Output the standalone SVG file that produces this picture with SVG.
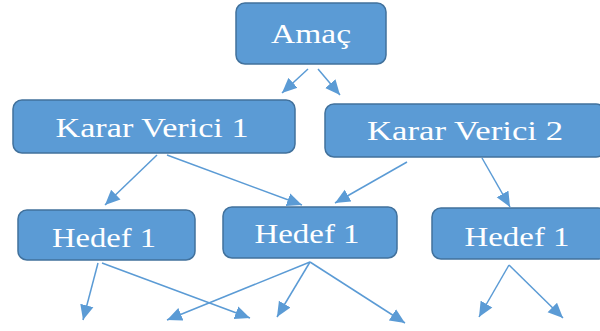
<svg xmlns="http://www.w3.org/2000/svg" width="600" height="331" viewBox="0 0 600 331">
<defs>
<marker id="ah" viewBox="0 0 10 10" refX="10" refY="5" markerUnits="userSpaceOnUse" markerWidth="15" markerHeight="15" orient="auto">
<path d="M0,0.5 L10,5 L0,9.5 z" fill="#5B9BD5"/>
</marker>
<style>
.box{fill:#5B9BD5;stroke:#41719C;stroke-width:1.5}
.lbl{font-family:"Liberation Serif","Times New Roman",serif;font-size:28px;fill:#FFFFFF;text-anchor:middle}
.con line{stroke:#5B9BD5;stroke-width:1.5;marker-end:url(#ah)}
</style>
</defs>
<rect width="600" height="331" fill="#FFFFFF"/>
<g id="connectors" class="con">
<line x1="308" y1="69" x2="282" y2="93"/>
<line x1="318" y1="69" x2="340" y2="95"/>
<line x1="157" y1="155" x2="105" y2="205"/>
<line x1="167" y1="155" x2="302" y2="205"/>
<line x1="407" y1="162" x2="335" y2="203"/>
<line x1="482" y1="158" x2="510" y2="207"/>
<line x1="98" y1="263" x2="83" y2="320"/>
<line x1="102" y1="263" x2="250" y2="318"/>
<line x1="310" y1="262" x2="167" y2="320"/>
<line x1="310" y1="262" x2="277" y2="317"/>
<line x1="310" y1="262" x2="405" y2="323"/>
<line x1="509" y1="265" x2="479" y2="317"/>
<line x1="509" y1="265" x2="563" y2="318"/>
</g>
<g id="amac">
<rect class="box" x="236" y="3" width="150" height="61" rx="9"/>
<text class="lbl" x="311" y="43" textLength="80" lengthAdjust="spacingAndGlyphs">Amaç</text>
</g>
<g id="karar-verici-1">
<rect class="box" x="13" y="100" width="282" height="53" rx="9"/>
<text class="lbl" x="152" y="137" textLength="193" lengthAdjust="spacingAndGlyphs">Karar Verici 1</text>
</g>
<g id="karar-verici-2">
<rect class="box" x="325" y="104" width="280" height="53" rx="9"/>
<text class="lbl" x="465" y="140" textLength="196" lengthAdjust="spacingAndGlyphs">Karar Verici 2</text>
</g>
<g id="hedef-1a">
<rect class="box" x="18" y="210" width="177" height="50" rx="9"/>
<text class="lbl" x="104" y="247" textLength="104" lengthAdjust="spacingAndGlyphs">Hedef 1</text>
</g>
<g id="hedef-1b">
<rect class="box" x="223" y="207" width="174" height="51" rx="9"/>
<text class="lbl" x="307" y="243" textLength="105" lengthAdjust="spacingAndGlyphs">Hedef 1</text>
</g>
<g id="hedef-1c">
<rect class="box" x="432" y="208" width="175" height="51" rx="9"/>
<text class="lbl" x="517" y="246" textLength="105" lengthAdjust="spacingAndGlyphs">Hedef 1</text>
</g>
</svg>
